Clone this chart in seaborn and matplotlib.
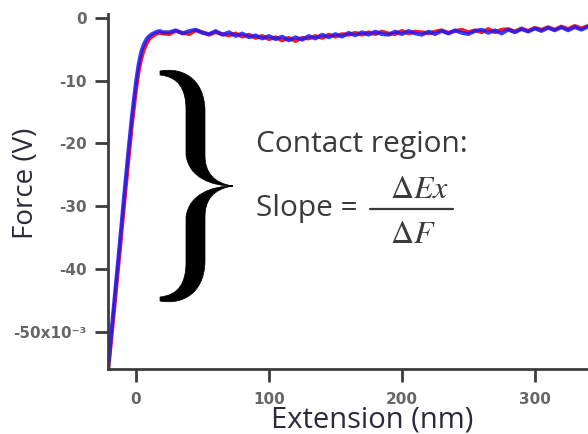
import numpy as np
import pandas as pd
import seaborn as sns
import matplotlib
matplotlib.use("Agg")
import matplotlib.pyplot as plt
from matplotlib.path import Path
from matplotlib.patches import PathPatch

# ---------------- data ----------------
knee_x = [-21, -18, -15, -12, -9, -6, -3, 0, 2, 4, 6, 8, 10, 12, 14, 16, 18, 20]
blue_knee = [-56.0, -49.0, -42.2, -35.5, -28.6, -21.9, -15.6, -10.3, -7.4, -5.4,
             -4.2, -3.4, -2.9, -2.6, -2.4, -2.2, -2.1, -2.3]
red_knee = [-56.3, -50.0, -43.4, -36.8, -30.0, -23.4, -17.0, -11.6, -8.6, -6.5,
            -5.1, -4.1, -3.4, -3.0, -2.7, -2.5, -2.4, -2.5]

plateau_x = list(range(25, 345, 5))
blue_plateau = [-2.3, -2.0, -2.5, -2.1, -1.9, -2.4, -2.6, -2.1, -2.7, -2.3,
                -2.9, -2.5, -3.1, -2.8, -3.3, -2.9, -3.4, -3.0, -3.6, -3.1,
                -3.5, -2.9, -3.3, -2.7, -3.1, -2.6, -3.0, -2.4, -2.8, -2.3,
                -2.7, -2.2, -2.6, -2.7, -2.2, -2.6, -2.1, -2.5, -2.7, -2.2,
                -2.6, -2.1, -2.5, -2.0, -2.4, -2.6, -2.1, -1.9, -2.4, -2.0,
                -2.5, -1.9, -2.3, -1.8, -2.2, -1.7, -2.1, -1.6, -2.0, -1.5,
                -2.0, -1.5, -1.9, -1.4]
red_plateau = [-2.6, -2.1, -2.4, -2.6, -2.0, -2.3, -2.7, -2.3, -2.6, -2.8,
               -2.5, -3.0, -2.7, -3.2, -2.9, -3.4, -3.1, -3.6, -3.2, -3.7,
               -3.2, -3.3, -2.9, -3.2, -2.7, -3.0, -2.6, -2.7, -2.4, -2.7,
               -2.3, -2.6, -2.2, -2.5, -2.6, -2.1, -2.5, -2.2, -2.3, -2.5,
               -2.2, -2.0, -2.4, -2.1, -1.9, -2.3, -2.0, -2.3, -1.8, -2.3,
               -1.9, -1.8, -2.2, -1.7, -2.1, -1.6, -1.9, -1.5, -1.9, -1.4,
               -1.8, -1.3, -1.7, -1.3]

x_all = knee_x + plateau_x
red_y = red_knee + red_plateau
blue_y = blue_knee + blue_plateau

y_ticks = [0, -10, -20, -30, -40, -50]
y_tick_labels = ["0", "-10", "-20", "-30", "-40", "-50x10⁻³"]
x_ticks = [0, 100, 200, 300]
x_tick_labels = ["0", "100", "200", "300"]

# ---------------- figure ----------------
W, H = 588, 434
sns.set_style("ticks")
plt.rcParams['font.family'] = ['DejaVu Sans']
plt.rcParams['mathtext.fontset'] = 'stix'

fig = plt.figure(figsize=(W / 100, H / 100), dpi=100)
fig.patch.set_facecolor("white")

def fx(px):
    return px / W

def fy(py):
    return 1 - py / H

ax = fig.add_axes([fx(108), fy(369), 1 - fx(108), (369 - 14) / H])
ax.set_facecolor("white")

df = pd.DataFrame({"x": x_all, "red": red_y, "blue": blue_y})
sns.lineplot(data=df, x="x", y="red", ax=ax, color="#ff1a1a", lw=2.8,
             sort=False, estimator=None)
sns.lineplot(data=df, x="x", y="blue", ax=ax, color="#1a1aff", lw=2.8,
             sort=False, estimator=None, alpha=0.85)

ax.set_xlim(-21, 340)
ax.set_ylim(-55.9, 0.6)

for s in ["top", "right"]:
    ax.spines[s].set_visible(False)
for s in ["left", "bottom"]:
    ax.spines[s].set_color("#3c3c3c")
    ax.spines[s].set_linewidth(2.0)

ax.set_yticks(y_ticks)
ax.set_yticklabels(y_tick_labels)
ax.set_xticks(x_ticks)
ax.set_xticklabels(x_tick_labels)
ax.tick_params(axis="both", direction="out", length=9.5, width=2.0,
               color="#3c3c3c", labelcolor="#666666", labelsize=11,
               left=True, bottom=True)
ax.tick_params(axis="y", pad=6)
ax.tick_params(axis="x", pad=7)
for lab in ax.get_xticklabels() + ax.get_yticklabels():
    lab.set_fontweight("bold")
    lab.set_family(["DejaVu Sans"])

ax.set_xlabel("")
ax.set_ylabel("")

label_font = ["Open Sans", "DejaVu Sans"]
fig.text(fx(372), fy(428), "Extension (nm)", ha="center", va="baseline",
         fontsize=21, color="#2a2a3a", family=label_font)
fig.text(fx(26), fy(183), "Force (V)", ha="center", va="center",
         rotation=90, fontsize=20, color="#2a2a3a", family=label_font)

# annotation text
fig.text(fx(256), fy(152), "Contact region:", ha="left", va="baseline",
         fontsize=21.5, color="#3a3a3a", family=label_font)
fig.text(fx(256), fy(216), "Slope =", ha="left", va="baseline",
         fontsize=21.5, color="#3a3a3a", family=label_font)
fig.text(fx(419), fy(198), r"$\Delta Ex$", ha="center", va="baseline",
         fontsize=23, color="#3a3a3a")
fig.text(fx(413), fy(243), r"$\Delta F$", ha="center", va="baseline",
         fontsize=23, color="#3a3a3a")
fig.add_artist(plt.Line2D([fx(370), fx(453)], [fy(209), fy(209)],
                          transform=fig.transFigure, color="#3a3a3a", lw=1.6))

# curly brace (pixel outline, mirrored for lower half)
def brace_half(flip):
    tip_y = 186.0
    pts = [(160, 71), (182, 67), (204, 78), (205, 110),
           (205, 155),
           (205, 172), (213, 183), (233, 186),
           (212, 186), (189, 178), (186, 155),
           (186, 110),
           (186, 88), (178, 77), (160, 75),
           (160, 71)]
    codes = [Path.MOVETO, Path.CURVE4, Path.CURVE4, Path.CURVE4,
             Path.LINETO,
             Path.CURVE4, Path.CURVE4, Path.CURVE4,
             Path.CURVE4, Path.CURVE4, Path.CURVE4,
             Path.LINETO,
             Path.CURVE4, Path.CURVE4, Path.CURVE4,
             Path.CLOSEPOLY]
    out = []
    for (px, py) in pts:
        if flip:
            py = 2 * tip_y - py
        out.append((fx(px), fy(py)))
    return Path(out, codes)

for flip in (False, True):
    patch = PathPatch(brace_half(flip), facecolor="black", edgecolor="black",
                      lw=0.5, transform=fig.transFigure)
    fig.add_artist(patch)

fig.savefig("out.png", dpi=100, facecolor="white")
